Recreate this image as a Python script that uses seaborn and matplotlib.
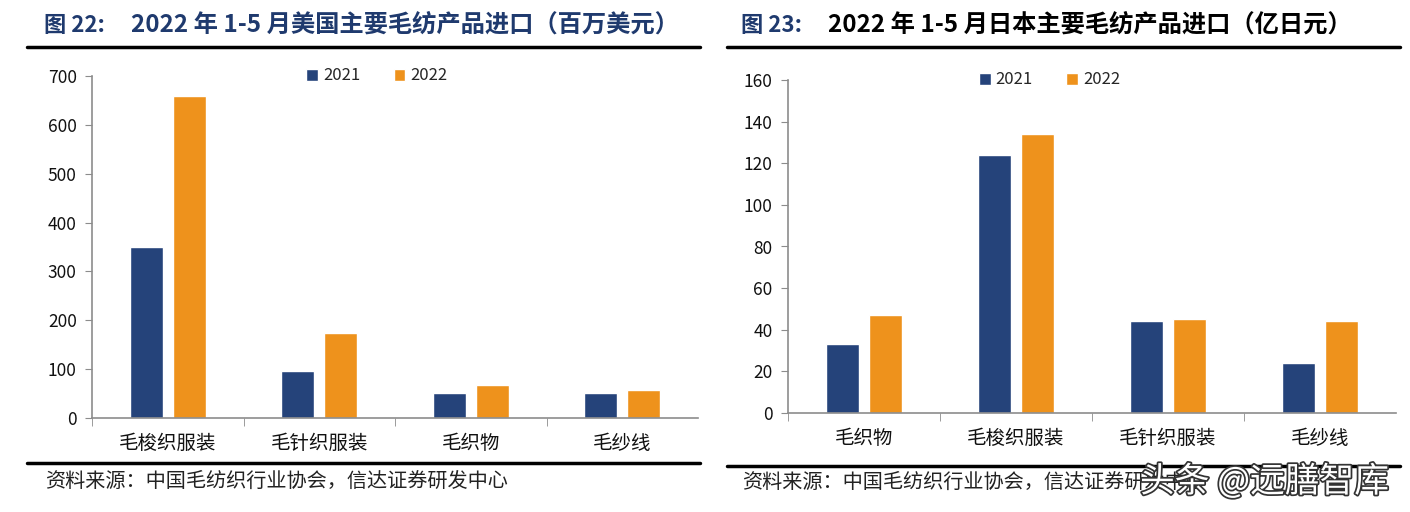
import numpy as np
import pandas as pd
import matplotlib
matplotlib.use("Agg")
import matplotlib.pyplot as plt
import matplotlib.patheffects as pe
import seaborn as sns

# data
years = ["2021", "2022"]
us_cats = ["毛梭织服装", "毛针织服装", "毛织物", "毛纱线"]
us_2021 = [351, 96, 51, 52]
us_2022 = [659, 174, 68, 58]
jp_cats = ["毛织物", "毛梭织服装", "毛针织服装", "毛纱线"]
jp_2021 = [33, 124, 44, 24]
jp_2022 = [47, 134, 45, 44]
us_ticks = [0, 100, 200, 300, 400, 500, 600, 700]
jp_ticks = [0, 20, 40, 60, 80, 100, 120, 140, 160]

navy = "#25437A"
orange = "#EE921C"
title_navy = "#1F3A6E"

sns.set_style("white")
plt.rcParams["font.family"] = ["Noto Sans CJK SC", "DejaVu Sans"]

fig = plt.figure(figsize=(14.1, 5.12), dpi=100)


def long_df(cats, a, b):
    return pd.DataFrame({
        "cat": cats * 2,
        "year": [years[0]] * len(cats) + [years[1]] * len(cats),
        "val": a + b,
    })


def draw(ax, df, ticks, legend_x):
    sns.barplot(data=df, x="cat", y="val", hue="year", order=df["cat"][:4].tolist(),
                palette=[navy, orange], width=0.57, gap=0.23, ax=ax,
                saturation=1, legend=True)
    ax.set_ylim(ticks[0], ticks[-1])
    ax.set_xlim(-0.5, 3.5)
    ax.set_yticks(ticks)
    ax.set_xlabel("")
    ax.set_ylabel("")
    for s in ["top", "right"]:
        ax.spines[s].set_visible(False)
    for s in ["left", "bottom"]:
        ax.spines[s].set_color("#8C8C8C")
        ax.spines[s].set_linewidth(1.2)
    ax.tick_params(axis="y", length=5, color="#8C8C8C", labelsize=12.5, pad=6, left=True,
                   labelcolor="#111111")
    ax.tick_params(axis="x", which="major", length=0, labelsize=14, pad=11, labelcolor="#111111")
    ax.set_xticks([-0.5, 0.5, 1.5, 2.5], minor=True)
    ax.tick_params(axis="x", which="minor", length=6, color="#8C8C8C", bottom=True)
    ax.legend(loc="center", bbox_to_anchor=(legend_x, 1.0), ncol=2, frameon=False,
              fontsize=12, handlelength=0.7, handleheight=0.7, handletextpad=0.3,
              columnspacing=2.0, borderaxespad=0)


ax1 = fig.add_axes([92 / 1410, 1 - 418 / 512, 606 / 1410, 342 / 512])
draw(ax1, long_df(us_cats, us_2021, us_2022), us_ticks, 0.47)

ax2 = fig.add_axes([788 / 1410, 1 - 413 / 512, 608 / 1410, 333 / 512])
draw(ax2, long_df(jp_cats, jp_2021, jp_2022), jp_ticks, 0.43)

# titles
fig.text(44 / 1410, 1 - 25 / 512, "图 22:", fontsize=16, weight="bold", color=title_navy, va="center")
fig.text(131 / 1410, 1 - 25 / 512, "2022 年 1-5 月美国主要毛纺产品进口（百万美元）", fontsize=17.5,
         weight="bold", color=title_navy, va="center")
fig.text(741 / 1410, 1 - 25 / 512, "图 23:", fontsize=16, weight="bold", color=title_navy, va="center")
fig.text(828 / 1410, 1 - 25 / 512, "2022 年 1-5 月日本主要毛纺产品进口（亿日元）", fontsize=17.5,
         weight="bold", color="black", va="center")

# rules
fig.add_artist(plt.Line2D([27 / 1410, 700 / 1410], [1 - 47 / 512] * 2, color="black", lw=2.5))
fig.add_artist(plt.Line2D([27 / 1410, 700 / 1410], [1 - 463 / 512] * 2, color="black", lw=2.5))
fig.add_artist(plt.Line2D([727 / 1410, 1400 / 1410], [1 - 47 / 512] * 2, color="black", lw=2.5))
fig.add_artist(plt.Line2D([727 / 1410, 1400 / 1410], [1 - 466 / 512] * 2, color="black", lw=2.5))

# sources
src = "资料来源：中国毛纺织行业协会，信达证券研发中心"
fig.text(45 / 1410, 1 - 481 / 512, src, fontsize=14.5, color="#222222", va="center")
fig.text(742 / 1410, 1 - 482 / 512, src, fontsize=14.5, color="#222222", va="center")

# watermark
fig.text(1140 / 1410, 1 - 482 / 512, "头条 @远膳智库", fontsize=25, color="white", va="center",
         path_effects=[pe.withStroke(linewidth=2.5, foreground="#333333")])

fig.savefig("out.png", dpi=100, facecolor="white")
